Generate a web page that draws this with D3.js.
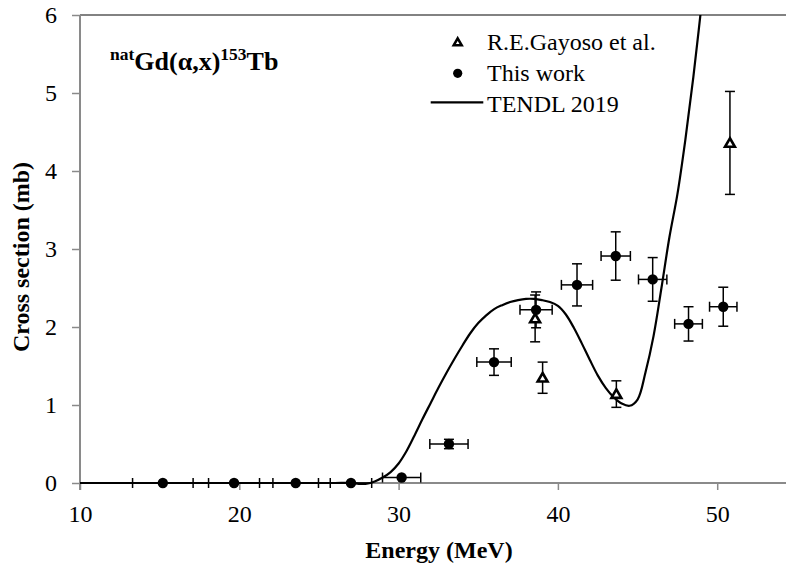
<!DOCTYPE html>
<html>
<head>
<meta charset="utf-8">
<script src="https://cdn.jsdelivr.net/npm/d3@7"></script>
<style>
  html, body { margin: 0; padding: 0; background: #fff; }
  svg { display: block; }
</style>
</head>
<body>
<svg id="chart" width="786" height="567"></svg>
<script>
// This work: energy (MeV), cross section (mb) and their uncertainties
const workEnergy = [15.2, 19.67, 23.54, 27.01, 30.19, 33.16, 35.99, 38.63, 41.2, 43.63, 45.95, 48.2, 50.38];
const workSigma  = [0, 0, 0, 0, 0.07, 0.5, 1.55, 2.22, 2.54, 2.91, 2.61, 2.04, 2.26];
const workDE     = [1.9, 1.6, 1.43, 1.3, 1.2, 1.2, 1.08, 1.01, 0.98, 0.92, 0.89, 0.87, 0.86];
const workDSigma = [0, 0, 0, 0, 0, 0.06, 0.17, 0.23, 0.27, 0.31, 0.28, 0.22, 0.25];

// R.E.Gayoso et al.
const gayEnergy = [38.57, 39.04, 43.67, 50.8];
const gaySigma  = [2.11, 1.35, 1.14, 4.36];
const gayDSigma = [0.3, 0.2, 0.17, 0.66];

// TENDL 2019 excitation function
const tendlEnergy = [10, 12, 14, 16, 18, 20, 22, 24, 26, 27, 27.5, 28, 28.5, 29, 29.5, 30, 30.5, 31, 31.5, 32,
  32.5, 33, 33.5, 34, 34.5, 35, 35.5, 36, 36.5, 37, 37.5, 38, 38.5, 39, 39.5, 40, 40.5, 41, 41.5, 42,
  42.5, 43, 43.5, 44, 44.5, 45, 45.5, 46, 46.5, 47, 47.5, 48, 48.5, 49, 49.5];
const tendlSigma = [0, 0, 0, 0, 0, 0, 0, 0, 0, 0, -0.01, -0.01, 0.02, 0.07, 0.14, 0.25, 0.41, 0.61, 0.82, 1.02,
  1.22, 1.41, 1.59, 1.76, 1.92, 2.05, 2.15, 2.23, 2.28, 2.32, 2.345, 2.36, 2.36, 2.345, 2.32, 2.27, 2.16, 1.99, 1.79, 1.58,
  1.38, 1.22, 1.1, 1.02, 0.99, 1.07, 1.42, 1.88, 2.5, 3.15, 3.7, 4.4, 5.2, 6.1, 7.0];

const xTicks = [10, 20, 30, 40, 50];
const yTicks = [0, 1, 2, 3, 4, 5, 6];

const FONT = "Liberation Serif";

const svg = d3.select("#chart").attr("font-family", FONT);
const W = 786;
const plotLeft = 80, plotTop = 15, plotBottom = 483;

const x = d3.scaleLinear().domain([10, 55]).range([plotLeft, plotLeft + 45 * 15.93]);
const y = d3.scaleLinear().domain([0, 6]).range([plotBottom, plotTop]);

const axisColor = "#8a8a8a";

// plot-area top border
svg.append("line").attr("x1", plotLeft).attr("x2", W).attr("y1", plotTop).attr("y2", plotTop)
  .attr("stroke", "#595959").attr("stroke-width", 1.5);

// x axis
const xAxis = svg.append("g").attr("transform", `translate(0,${plotBottom})`)
  .call(d3.axisBottom(x).tickValues(xTicks).tickSize(7).tickPadding(8).tickFormat(d3.format("d")));
xAxis.attr("font-family", FONT);
xAxis.select(".domain").attr("stroke", axisColor).attr("stroke-width", 2)
  .attr("d", `M${plotLeft},0H${W}`);
xAxis.selectAll(".tick line").attr("stroke", axisColor).attr("stroke-width", 1.5);
xAxis.selectAll(".tick text").attr("font-family", FONT).attr("font-size", 24)
  .attr("fill", "#000").attr("dy", "1.0em");

// y axis
const yAxis = svg.append("g").attr("transform", `translate(${plotLeft},0)`)
  .call(d3.axisLeft(y).tickValues(yTicks).tickSize(8).tickPadding(15).tickFormat(d3.format("d")));
yAxis.attr("font-family", FONT);
yAxis.select(".domain").attr("stroke", axisColor).attr("stroke-width", 2)
  .attr("d", `M0,${plotTop}V${plotBottom + 7}`);
yAxis.selectAll(".tick line").attr("stroke", axisColor).attr("stroke-width", 1.5);
yAxis.selectAll(".tick text").attr("font-family", FONT).attr("font-size", 24)
  .attr("fill", "#000").attr("dy", "0.33em");

// axis titles
svg.append("text").attr("x", 439).attr("y", 558).attr("text-anchor", "middle")
  .attr("font-family", FONT).attr("font-size", 24).attr("font-weight", "bold").text("Energy (MeV)");
svg.append("text").attr("transform", "translate(29,257) rotate(-90)").attr("text-anchor", "middle")
  .attr("font-family", FONT).attr("font-size", 24).attr("font-weight", "bold").text("Cross section (mb)");

// reaction label
const title = svg.append("text").attr("x", 110).attr("y", 70)
  .attr("font-family", FONT).attr("font-size", 26).attr("font-weight", "bold");
title.append("tspan").attr("font-size", 17.5).attr("dy", -10).text("nat");
title.append("tspan").attr("dy", 10).text("Gd(α,x)");
title.append("tspan").attr("font-size", 17.5).attr("dy", -10).text("153");
title.append("tspan").attr("dy", 10).text("Tb");

// clip to plot area
svg.append("clipPath").attr("id", "plotClip").append("rect")
  .attr("x", plotLeft).attr("y", plotTop).attr("width", W - plotLeft).attr("height", plotBottom - plotTop + 20);

// TENDL curve
const tendl = tendlEnergy.map((e, i) => [e, tendlSigma[i]]);
svg.append("path").datum(tendl)
  .attr("clip-path", "url(#plotClip)")
  .attr("fill", "none").attr("stroke", "#000").attr("stroke-width", 2.2)
  .attr("d", d3.line().x(d => x(d[0])).y(d => y(d[1])).curve(d3.curveCatmullRom.alpha(0.5)));

// error bars
const eb = svg.append("g").attr("stroke", "#000").attr("stroke-width", 1.5).attr("fill", "none");
const cap = 5;
function hBar(e, v, de) {
  if (!de) return;
  const x0 = x(e - de), x1 = x(e + de), yy = y(v);
  eb.append("line").attr("x1", x0).attr("x2", x1).attr("y1", yy).attr("y2", yy);
  eb.append("line").attr("x1", x0).attr("x2", x0).attr("y1", yy - cap).attr("y2", yy + cap);
  eb.append("line").attr("x1", x1).attr("x2", x1).attr("y1", yy - cap).attr("y2", yy + cap);
}
function vBar(e, v, dv) {
  if (!dv) return;
  const xx = x(e), y0 = y(v - dv), y1 = y(v + dv);
  eb.append("line").attr("x1", xx).attr("x2", xx).attr("y1", y0).attr("y2", y1);
  eb.append("line").attr("x1", xx - cap).attr("x2", xx + cap).attr("y1", y0).attr("y2", y0);
  eb.append("line").attr("x1", xx - cap).attr("x2", xx + cap).attr("y1", y1).attr("y2", y1);
}
gayEnergy.forEach((e, i) => vBar(e, gaySigma[i], gayDSigma[i]));
workEnergy.forEach((e, i) => { hBar(e, workSigma[i], workDE[i]); vBar(e, workSigma[i], workDSigma[i]); });

// markers
const tri = d3.symbol().type(d3.symbolTriangle);
svg.append("g").selectAll("path").data(gayEnergy).join("path")
  .attr("transform", (d, i) => `translate(${x(d)},${y(gaySigma[i]) + 1})`)
  .attr("d", tri.size(42)())
  .attr("fill", "#fff").attr("stroke", "#000").attr("stroke-width", 2.6);
svg.append("g").selectAll("circle").data(workEnergy).join("circle")
  .attr("cx", d => x(d)).attr("cy", (d, i) => y(workSigma[i])).attr("r", 5.2).attr("fill", "#000");

// legend
const lg = svg.append("g");
lg.append("path").attr("transform", "translate(457.7,43)").attr("d", tri.size(28)())
  .attr("fill", "#fff").attr("stroke", "#000").attr("stroke-width", 2.5);
lg.append("circle").attr("cx", 457.7).attr("cy", 73.3).attr("r", 4.6).attr("fill", "#000");
lg.append("line").attr("x1", 430.7).attr("x2", 483.3).attr("y1", 102.3).attr("y2", 102.3)
  .attr("stroke", "#000").attr("stroke-width", 2.2);
const legendNames = ["R.E.Gayoso et al.", "This work", "TENDL 2019"];
const legendY = [50, 81, 111.7];
lg.selectAll("text").data(legendNames).join("text")
  .attr("x", 487).attr("y", (d, i) => legendY[i])
  .attr("font-family", FONT).attr("font-size", 24).text(d => d);
</script>
</body>
</html>
